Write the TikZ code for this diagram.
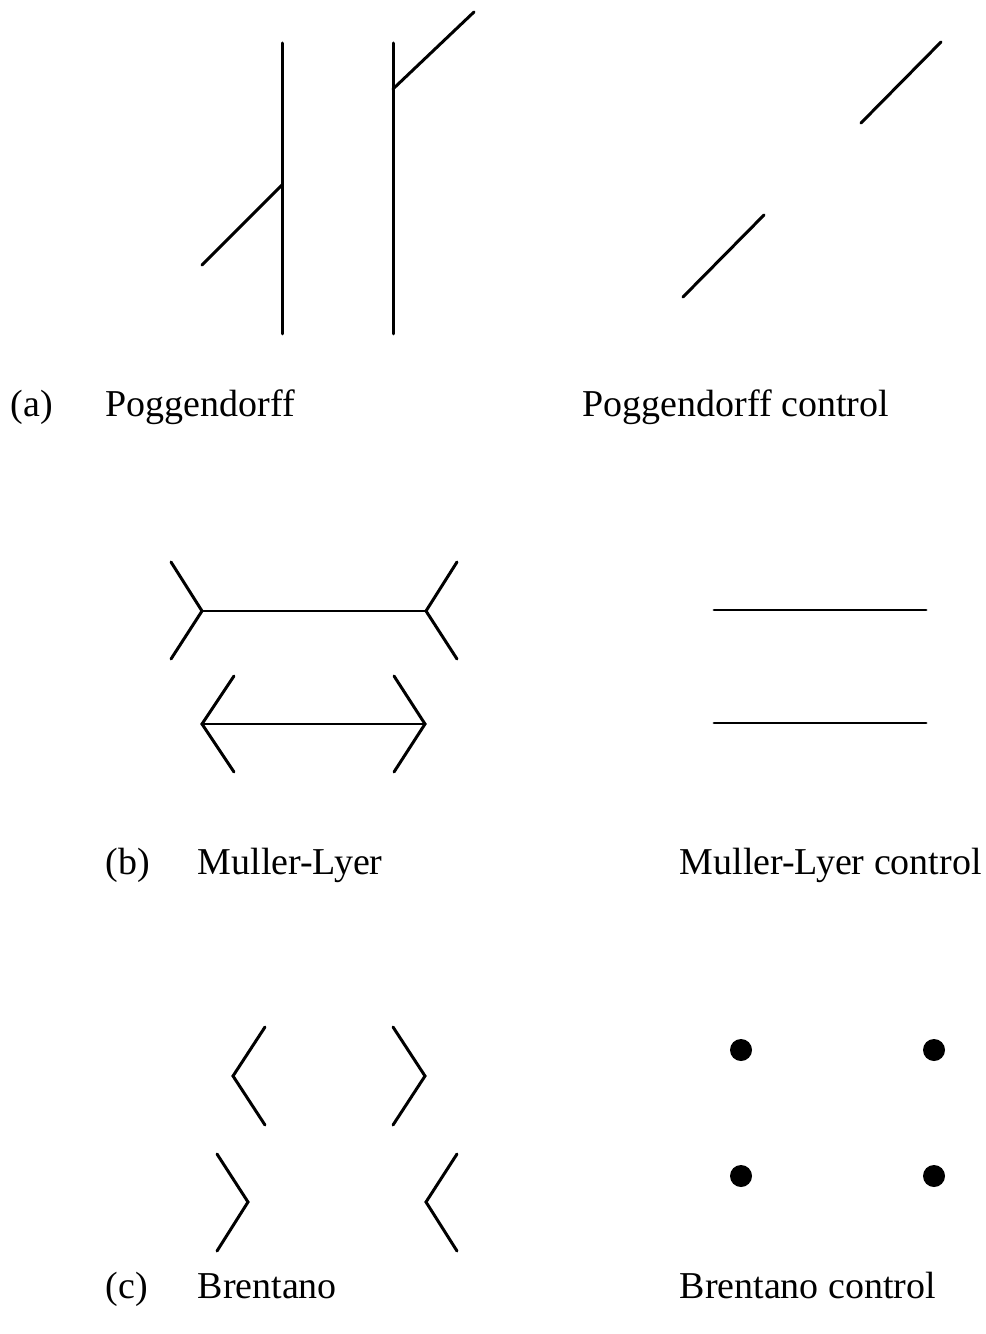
\documentclass[tikz,border=0pt]{standalone}
\usepackage{fontspec}
\setmainfont{Liberation Serif}
\usepackage{tikz}
\tikzset{
  fig/.style={line width=0.85pt, line cap=round, line join=miter},
  lbl/.style={font=\fontsize{10.8}{13}\selectfont, anchor=base west, inner sep=0pt},
  dot/.style={fill=black}
}

\begin{document}
\begin{tikzpicture}[x=0.01cm, y=-0.01cm]
  \useasboundingbox (0,0) rectangle (986,1334);
  % (a) Poggendorff
  \draw[fig] (282,43) -- (282,334);
  \draw[fig] (393,43) -- (393,334);
  \draw[fig] (202,265) -- (282,185);
  \draw[fig] (393,89) -- (474,12);
  \draw[fig] (683,297) -- (764,215);
  \draw[fig] (861,123) -- (941,42);
  \node[lbl] (la) at (10,417) {(a)};
  \node[lbl] (pog) at (105,417) {Poggendorff};
  \node[lbl] (pogc) at (582,417) {Poggendorff control};
  % (b) Muller-Lyer
  \draw[fig] (171,562) -- (202,611) -- (171,659);
  \draw[fig] (202,611) -- (426,611);
  \draw[fig] (457,562) -- (426,611) -- (457,659);
  \draw[fig] (234,676) -- (202,724) -- (234,772);
  \draw[fig] (202,724) -- (425,724);
  \draw[fig] (394,676) -- (425,724) -- (394,772);
  \draw[fig] (714,610) -- (926,610);
  \draw[fig] (714,723) -- (926,723);
  \node[lbl] (lb) at (105,874) {(b)};
  \node[lbl] (ml) at (197,874) {Muller-Lyer};
  \node[lbl] (mlc) at (679,874) {Muller-Lyer control};
  % (c) Brentano
  \draw[fig] (265,1027) -- (233,1076) -- (265,1125);
  \draw[fig] (393,1027) -- (425,1076) -- (393,1125);
  \draw[fig] (217,1154) -- (248,1202) -- (217,1251);
  \draw[fig] (457,1154) -- (426,1202) -- (457,1251);
  \foreach \x in {741,934}
    \foreach \y in {1050,1176}
      \fill[dot] (\x,\y) circle (11);
  \node[lbl] (lc) at (105,1298) {(c)};
  \node[lbl] (br) at (197,1298) {Brentano};
  \node[lbl] (brc) at (679,1298) {Brentano control};
\end{tikzpicture}
\end{document}
